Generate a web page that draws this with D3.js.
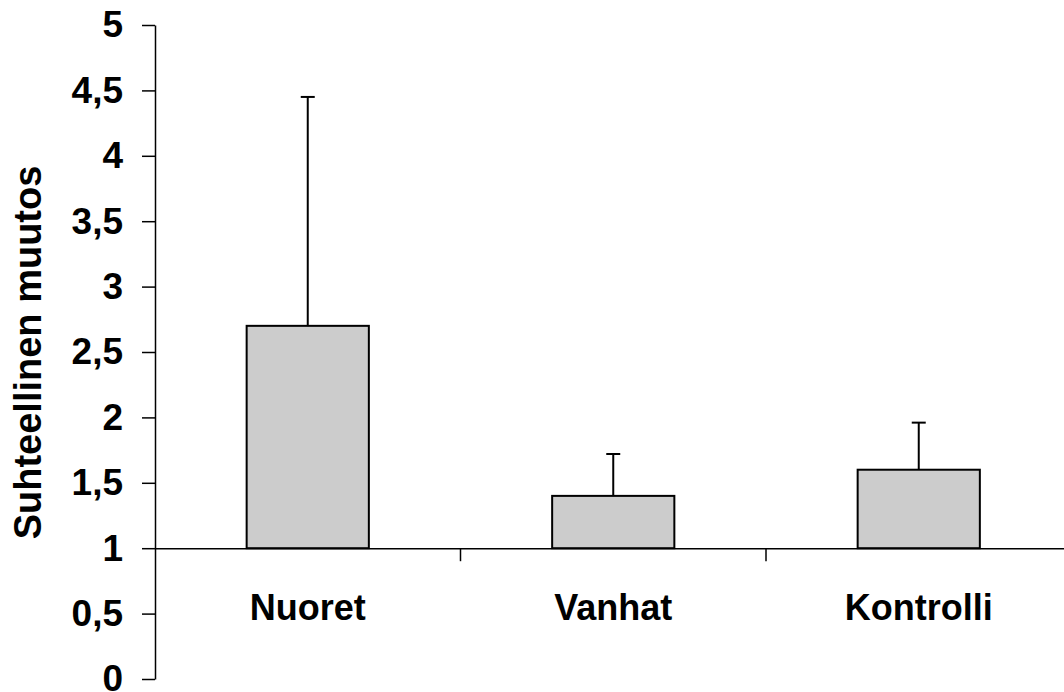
<!DOCTYPE html>
<html>
<head>
<meta charset="utf-8">
<script src="https://cdn.jsdelivr.net/npm/d3@7"></script>
<style>
  html, body { margin: 0; padding: 0; background: #ffffff; }
  svg { display: block; }
  text { font-family: "Liberation Sans", Arial, sans-serif; font-weight: bold; fill: #000; }
</style>
</head>
<body>
<svg id="chart" width="1064" height="692"></svg>
<script>
// Group names, mean relative change and upper error limit
const categories = ["Nuoret", "Vanhat", "Kontrolli"];
const means = [2.7, 1.4, 1.6];
const errorTops = [4.45, 1.72, 1.96];
const yTicks = [0, 0.5, 1, 1.5, 2, 2.5, 3, 3.5, 4, 4.5, 5];
const yTitle = "Suhteellinen muutos";
const baseline = 1;

const svg = d3.select("#chart");

const y = d3.scaleLinear().domain([0, 5]).range([679, 25]);
const x = d3.scaleBand().domain(categories).range([155, 1071.5]).padding(0);
const barW = x.bandwidth() * 0.4;

const fmt = d => String(d).replace(".", ",");

// Y axis
const yAxis = d3.axisLeft(y)
  .tickValues(yTicks)
  .tickSize(13)
  .tickSizeOuter(0)
  .tickPadding(19)
  .tickFormat(fmt);

const gy = svg.append("g")
  .attr("transform", "translate(155,0)")
  .call(yAxis);
gy.select(".domain").attr("stroke", "#000").attr("stroke-width", 1.5);
gy.selectAll(".tick line").attr("stroke", "#000").attr("stroke-width", 1.5);
gy.selectAll(".tick text")
  .attr("font-size", 37)
  .attr("font-family", "'Liberation Sans', Arial, sans-serif")
  .attr("font-weight", "bold")
  .attr("fill", "#000");

// Bars rising from the baseline of 1
const centers = categories.map(c => x(c) + x.bandwidth() / 2);

svg.append("g").selectAll("rect")
  .data(categories)
  .join("rect")
  .attr("x", (c, i) => centers[i] - barW / 2)
  .attr("y", (c, i) => y(means[i]))
  .attr("width", barW)
  .attr("height", (c, i) => y(baseline) - y(means[i]))
  .attr("fill", "#cccccc")
  .attr("stroke", "#000")
  .attr("stroke-width", 2);

// Upper error bars
const eg = svg.append("g").attr("stroke", "#000").attr("stroke-width", 2);
eg.selectAll("line.stem")
  .data(categories)
  .join("line")
  .attr("class", "stem")
  .attr("x1", (c, i) => centers[i])
  .attr("x2", (c, i) => centers[i])
  .attr("y1", (c, i) => y(means[i]))
  .attr("y2", (c, i) => y(errorTops[i]));
eg.selectAll("line.cap")
  .data(categories)
  .join("line")
  .attr("class", "cap")
  .attr("x1", (c, i) => centers[i] - 7)
  .attr("x2", (c, i) => centers[i] + 7)
  .attr("y1", (c, i) => y(errorTops[i]))
  .attr("y2", (c, i) => y(errorTops[i]));

// Category axis crossing at 1
const xAxis = d3.axisBottom(x)
  .tickSize(0)
  .tickSizeOuter(0)
  .tickFormat("");
const gx = svg.append("g")
  .attr("transform", `translate(0,${y(baseline)})`)
  .call(xAxis);
gx.select(".domain").attr("stroke", "#000").attr("stroke-width", 1.5);

// Tick marks between categories
const bounds = categories.slice(1).map(c => x(c));
gx.selectAll("line.sep")
  .data(bounds)
  .join("line")
  .attr("class", "sep")
  .attr("x1", d => d).attr("x2", d => d)
  .attr("y1", 0).attr("y2", 13)
  .attr("stroke", "#000").attr("stroke-width", 1.5);

// Category labels
svg.append("g").selectAll("text")
  .data(categories)
  .join("text")
  .attr("x", (c, i) => centers[i])
  .attr("y", 620)
  .attr("text-anchor", "middle")
  .attr("font-size", 36)
  .text(d => d);

// Y axis title
svg.append("text")
  .attr("transform", "translate(41,352.5) rotate(-90)")
  .attr("text-anchor", "middle")
  .attr("font-size", 38)
  .text(yTitle);
</script>
</body>
</html>
